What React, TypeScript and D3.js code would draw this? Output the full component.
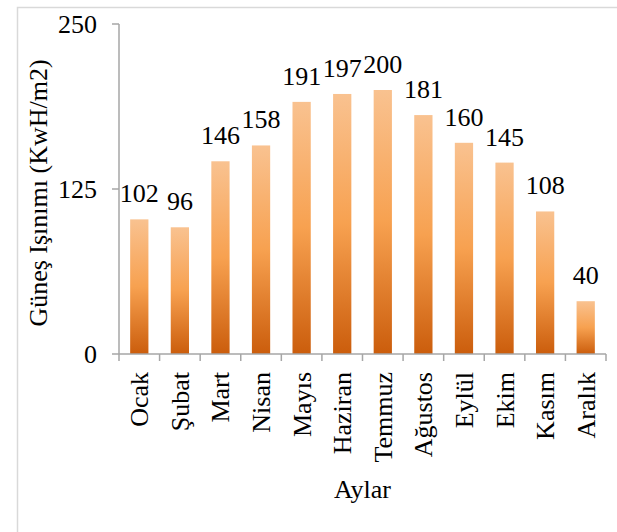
import React from "react";
import * as d3 from "d3";

const months = ["Ocak", "Şubat", "Mart", "Nisan", "Mayıs", "Haziran", "Temmuz", "Ağustos", "Eylül", "Ekim", "Kasım", "Aralık"];
const values = [102, 96, 146, 158, 191, 197, 200, 181, 160, 145, 108, 40];
const yTicks = [0, 125, 250];
const yTitle = "Güneş Işınımı (KwH/m2)";
const xTitle = "Aylar";

const W = 617;
const H = 532;
const left = 119;
const right = 606;
const top = 24;
const bottom = 354;
const font = "'Liberation Serif', 'Times New Roman', serif";
const fs = 26;
const axisColor = "#a6a6a6";

export default function App() {
  const x = d3.scaleBand<string>().domain(months).range([left, right]).paddingInner(0.55).paddingOuter(0.275);
  const band = d3.scaleBand<string>().domain(months).range([left, right]).padding(0);
  const y = d3.scaleLinear().domain([0, 250]).range([bottom, top]);
  const boundaries = d3.range(months.length + 1).map((i) => left + i * band.step());

  return (
    <svg width={W} height={H} style={{ position: "absolute", left: 0, top: 0, background: "#fff" }}>
      <defs>
        <linearGradient id="barGrad" x1="0" y1="0" x2="0" y2="1">
          <stop offset="0%" stopColor="#F9C290" />
          <stop offset="50%" stopColor="#F7A150" />
          <stop offset="100%" stopColor="#CB5D0C" />
        </linearGradient>
      </defs>
      <rect x={17.5} y={7.5} width={700} height={700} fill="none" stroke="#d9d9d9" strokeWidth={1.5} />

      {months.map((m, i) => (
        <rect key={m} x={x(m)} y={y(values[i])} width={x.bandwidth()} height={y(0) - y(values[i])} fill="url(#barGrad)" />
      ))}

      {/* y axis */}
      <line x1={left} x2={left} y1={top} y2={bottom} stroke={axisColor} strokeWidth={1.5} />
      {yTicks.map((t) => (
        <g key={t}>
          <line x1={left - 7} x2={left} y1={y(t)} y2={y(t)} stroke={axisColor} strokeWidth={1.5} />
          <text x={97} y={y(t)} dy="0.35em" textAnchor="end" fontFamily={font} fontSize={fs} fill="#000">
            {t}
          </text>
        </g>
      ))}

      {/* x axis */}
      <line x1={left} x2={right} y1={bottom} y2={bottom} stroke={axisColor} strokeWidth={1.5} />
      {boundaries.map((b, i) => (
        <line key={i} x1={b} x2={b} y1={bottom} y2={bottom + 7} stroke={axisColor} strokeWidth={1.5} />
      ))}

      {/* value labels */}
      {months.map((m, i) => (
        <text key={m} x={(x(m) as number) + x.bandwidth() / 2} y={y(values[i]) - 17} textAnchor="middle" fontFamily={font} fontSize={fs} fill="#000">
          {values[i]}
        </text>
      ))}

      {/* month labels */}
      {months.map((m) => {
        const cx = (band(m) as number) + band.bandwidth() / 2 + 9;
        return (
          <text key={m} transform={`translate(${cx},372) rotate(-90)`} textAnchor="end" fontFamily={font} fontSize={fs} fill="#000">
            {m}
          </text>
        );
      })}

      <text x={(left + right) / 2} y={498} textAnchor="middle" fontFamily={font} fontSize={fs} fill="#000">
        {xTitle}
      </text>
      <text transform={`translate(47,193) rotate(-90)`} textAnchor="middle" fontFamily={font} fontSize={fs} fill="#000">
        {yTitle}
      </text>
    </svg>
  );
}
